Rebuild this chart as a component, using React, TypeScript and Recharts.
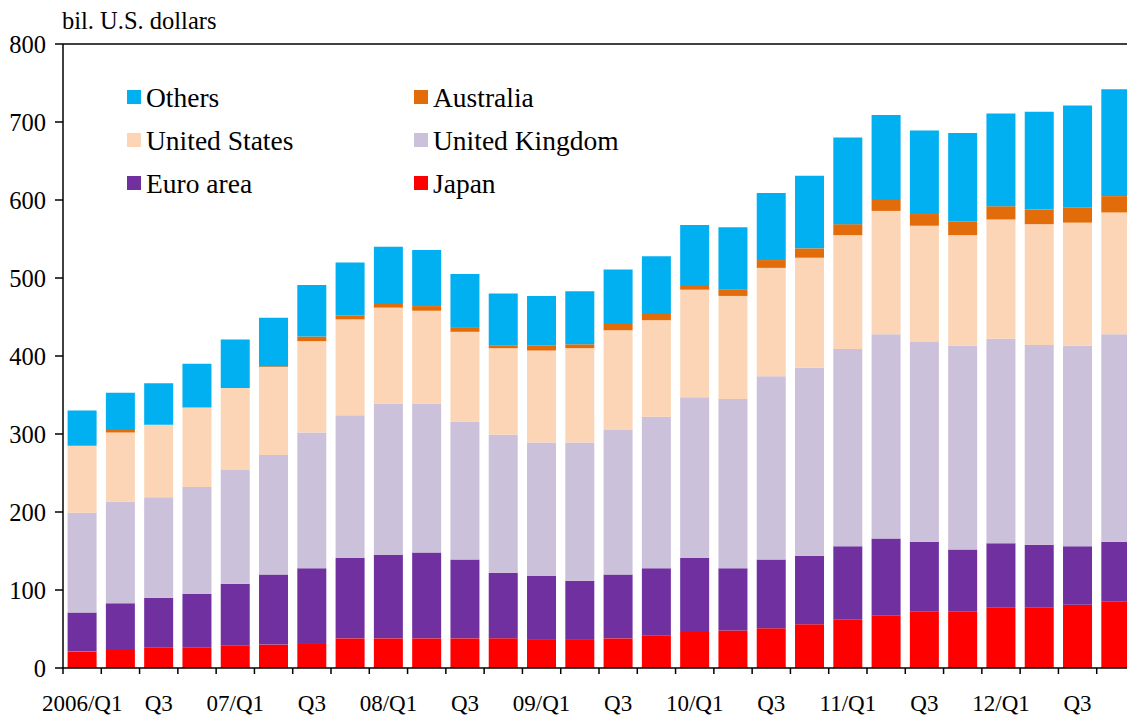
import { BarChart, Bar, XAxis, YAxis, ReferenceLine, Legend } from 'recharts';

const FONT = "'Liberation Serif', 'Times New Roman', serif";

// 2006/Q1 .. 2012/Q4
const quarters = [
  '2006/Q1', '2006/Q2', '2006/Q3', '2006/Q4',
  '2007/Q1', '2007/Q2', '2007/Q3', '2007/Q4',
  '2008/Q1', '2008/Q2', '2008/Q3', '2008/Q4',
  '2009/Q1', '2009/Q2', '2009/Q3', '2009/Q4',
  '2010/Q1', '2010/Q2', '2010/Q3', '2010/Q4',
  '2011/Q1', '2011/Q2', '2011/Q3', '2011/Q4',
  '2012/Q1', '2012/Q2', '2012/Q3', '2012/Q4',
];
const tickLabels = [
  '2006/Q1', '', 'Q3', '',
  '07/Q1', '', 'Q3', '',
  '08/Q1', '', 'Q3', '',
  '09/Q1', '', 'Q3', '',
  '10/Q1', '', 'Q3', '',
  '11/Q1', '', 'Q3', '',
  '12/Q1', '', 'Q3', '',
];

// bil. U.S. dollars, stacked from the bottom
const japan = [21, 23, 26, 26, 29, 30, 32, 38, 38, 38, 38, 38, 37, 37, 38, 42, 46, 48, 51, 56, 62, 67, 72, 72, 78, 78, 81, 85];
const euroArea = [50, 60, 64, 69, 79, 90, 96, 103, 107, 110, 101, 84, 81, 75, 82, 86, 95, 80, 88, 88, 94, 99, 90, 80, 82, 80, 75, 77];
const unitedKingdom = [128, 130, 129, 137, 146, 153, 174, 183, 194, 191, 177, 177, 171, 177, 185, 194, 206, 217, 235, 241, 253, 262, 256, 261, 262, 256, 257, 266];
const unitedStates = [86, 89, 93, 102, 105, 113, 117, 123, 123, 119, 115, 111, 118, 121, 128, 124, 138, 132, 139, 141, 146, 158, 149, 142, 153, 155, 158, 156];
const australia = [0, 3, 0, 0, 0, 1, 6, 5, 6, 6, 6, 3, 6, 5, 8, 8, 6, 8, 10, 12, 14, 14, 15, 17, 17, 19, 19, 21];
const others = [45, 48, 53, 56, 62, 62, 66, 68, 72, 72, 68, 67, 64, 68, 70, 74, 77, 80, 86, 93, 111, 109, 107, 114, 119, 125, 131, 137];

const yTicks = [0, 100, 200, 300, 400, 500, 600, 700, 800];

const series = [
  { key: 'japan', name: 'Japan', color: '#FF0000', values: japan },
  { key: 'euro', name: 'Euro area', color: '#7030A0', values: euroArea },
  { key: 'uk', name: 'United Kingdom', color: '#CCC1DA', values: unitedKingdom },
  { key: 'us', name: 'United States', color: '#FBD5B5', values: unitedStates },
  { key: 'aus', name: 'Australia', color: '#E36C0A', values: australia },
  { key: 'others', name: 'Others', color: '#00B0F0', values: others },
];

// legend reads row by row, two columns
const legendOrder = ['Others', 'Australia', 'United States', 'United Kingdom', 'Euro area', 'Japan'];

const data = quarters.map((q, i) => {
  const row: Record<string, string | number> = { quarter: q };
  series.forEach((s) => {
    row[s.key] = s.values[i];
  });
  return row;
});

function QuarterTick(props: any) {
  const { x, y, index, width } = props;
  const half = width ? width / quarters.length / 2 : 0;
  const label = tickLabels[index] ?? '';
  return (
    <g>
      <line x1={x - half} x2={x - half} y1={y} y2={y + 6} stroke="#000" strokeWidth={1.5} />
      {label && (
        <text x={x} y={y + 43} textAnchor="middle" fill="#000" fontSize={23} fontFamily={FONT}>
          {label}
        </text>
      )}
    </g>
  );
}

function renderLegend() {
  return (
    <div
      style={{
        display: 'grid',
        gridTemplateColumns: '287px auto',
        fontFamily: FONT,
        fontSize: 27.5,
        color: '#000',
      }}
    >
      {legendOrder.map((name) => {
        const s = series.find((x) => x.name === name)!;
        return (
          <div key={name} style={{ display: 'flex', alignItems: 'center', height: 43 }}>
            <span style={{ width: 14, height: 14, background: s.color, marginRight: 5, flexShrink: 0 }} />
            <span style={{ lineHeight: '43px', whiteSpace: 'nowrap' }}>{name}</span>
          </div>
        );
      })}
    </div>
  );
}

export default function App() {
  return (
    <div
      style={{
        position: 'fixed',
        left: 0,
        top: 0,
        width: 1127,
        height: 717,
        overflow: 'hidden',
        background: '#fff',
      }}
    >
      <div
        style={{
          position: 'absolute',
          left: 62,
          top: 9,
          fontFamily: FONT,
          fontSize: 24.5,
          lineHeight: '24px',
          color: '#000',
          whiteSpace: 'nowrap',
          zIndex: 2,
        }}
      >
        bil. U.S. dollars
      </div>
      <BarChart
        width={1135}
        height={717}
        data={data}
        margin={{ top: 44, right: 0, bottom: 0, left: 0 }}
        barCategoryGap="12%"
      >
        <XAxis
          dataKey="quarter"
          interval={0}
          tickLine={false}
          tickSize={0}
          tickMargin={0}
          height={49}
          axisLine={{ stroke: '#000', strokeWidth: 1.5 }}
          tick={<QuarterTick />}
        />
        <YAxis
          domain={[0, 800]}
          ticks={yTicks}
          width={63}
          tickSize={8}
          tickMargin={9}
          axisLine={{ stroke: '#000', strokeWidth: 1.5 }}
          tickLine={{ stroke: '#000', strokeWidth: 1.5 }}
          tick={{ fill: '#000', fontSize: 24.5, fontFamily: FONT }}
        />
        <ReferenceLine y={800} stroke="#000" strokeWidth={1.5} />
        <Legend
          layout="vertical"
          align="center"
          verticalAlign="middle"
          content={renderLegend}
          wrapperStyle={{ left: 127, top: 75.5, width: 620, height: 129 }}
        />
        {series.map((s) => (
          <Bar
            key={s.key}
            dataKey={s.key}
            name={s.name}
            stackId="total"
            fill={s.color}
            isAnimationActive={false}
          />
        ))}
      </BarChart>
    </div>
  );
}
